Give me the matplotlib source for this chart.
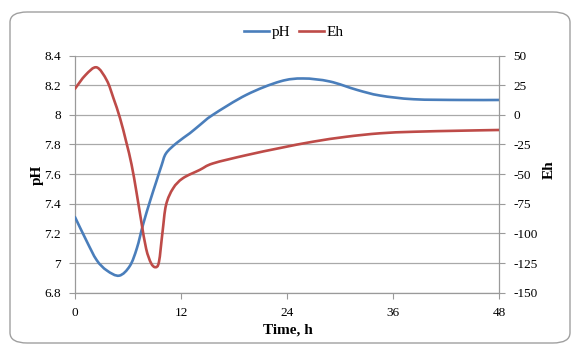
import matplotlib
matplotlib.use("Agg")
import matplotlib.pyplot as plt
from matplotlib.patches import FancyBboxPatch, PathPatch
from matplotlib.path import Path
from matplotlib.lines import Line2D

plt.rcParams['font.family'] = ['Liberation Serif', 'DejaVu Serif']
plt.rcParams['axes.unicode_minus'] = False

# ---- data ----
ph_time = [0, 1.3, 2.45, 3.6, 5.0, 6.2, 7.0, 7.7, 8.5, 9.2, 9.8, 10.3, 11.5,
           13.0, 14.1, 15.6, 19.4, 23.2, 25.8, 28.8, 31.9, 34.5, 38.3, 43.6, 48]
ph_vals = [7.31, 7.15, 7.02, 6.95, 6.915, 6.98, 7.10, 7.26, 7.42, 7.55, 7.66, 7.74, 7.81,
           7.876, 7.93, 8.0, 8.135, 8.225, 8.245, 8.225, 8.168, 8.13, 8.105, 8.10, 8.10]

eh_time = [0, 1.2, 2.45, 3.6, 4.35, 5.1, 5.8, 6.4, 6.95, 7.5, 8.05, 8.6, 9.1, 9.5,
           9.9, 10.3, 11.1, 12.2, 14.1, 15.6, 19.4, 23.2, 26.9, 30.7, 34.5, 38.3, 43.6, 48]
eh_vals = [22, 33.6, 40, 29, 14, -3, -23, -42, -65, -90, -113, -125, -128.5, -124,
           -99, -76, -62, -53.5, -46.5, -41, -34, -28, -22.7, -18.5, -15.6, -14.3, -13.4, -12.8]

x_ticks = [0, 12, 24, 36, 48]
ph_ticks = [6.8, 7.0, 7.2, 7.4, 7.6, 7.8, 8.0, 8.2, 8.4]
ph_tick_labels = ['6.8', '7', '7.2', '7.4', '7.6', '7.8', '8', '8.2', '8.4']
eh_ticks = [-150, -125, -100, -75, -50, -25, 0, 25, 50]
eh_tick_labels = ['-150', '-125', '-100', '-75', '-50', '-25', '0', '25', '50']

blue = '#4a7ebb'
red = '#be4b48'
grid_c = '#a9a9a9'
axis_c = '#9a9a9a'


def smooth_path(xs, ys):
    """Excel-style smoothed line: cubic Bezier segments through the data points."""
    n = len(xs)
    verts = [(xs[0], ys[0])]
    codes = [Path.MOVETO]
    for i in range(n - 1):
        i0 = max(i - 1, 0)
        i3 = min(i + 2, n - 1)
        c1 = (xs[i] + (xs[i + 1] - xs[i0]) / 6.0, ys[i] + (ys[i + 1] - ys[i0]) / 6.0)
        c2 = (xs[i + 1] - (xs[i3] - xs[i]) / 6.0, ys[i + 1] - (ys[i3] - ys[i]) / 6.0)
        verts += [c1, c2, (xs[i + 1], ys[i + 1])]
        codes += [Path.CURVE4] * 3
    return Path(verts, codes)


fig = plt.figure(figsize=(5.73, 3.45), dpi=100)
fig.patch.set_facecolor('white')

# rounded outer frame
frame = FancyBboxPatch((10/573, 1 - 343/345), 560/573, 331/345,
                       boxstyle="round,pad=0,rounding_size=0.03",
                       transform=fig.transFigure, facecolor='none',
                       edgecolor='#a0a0a0', linewidth=1.0)
fig.patches.append(frame)

ax = fig.add_axes([75/573, 1 - 292.7/345, (499.3 - 75)/573, (292.7 - 55.5)/345])
ax2 = ax.twinx()

ax.set_xlim(0, 48)
ax.set_ylim(6.8, 8.4)
ax2.set_ylim(-150, 50)

ax.set_yticks(ph_ticks)
ax.set_yticklabels(ph_tick_labels)
ax2.set_yticks(eh_ticks)
ax2.set_yticklabels(eh_tick_labels)
ax.set_xticks(x_ticks)
ax.set_xticklabels([str(v) for v in x_ticks])

ax.grid(axis='y', color=grid_c, linewidth=0.9)
ax.set_axisbelow(True)

for a in (ax, ax2):
    a.spines['top'].set_visible(False)
    for s in ('left', 'right', 'bottom'):
        a.spines[s].set_color(axis_c)
        a.spines[s].set_linewidth(0.9)
ax.spines['right'].set_visible(False)
ax2.spines['left'].set_visible(False)
ax2.spines['bottom'].set_visible(False)

ax.tick_params(axis='y', direction='out', length=4, color=axis_c, labelsize=9.5, pad=6)
ax.tick_params(axis='x', direction='out', length=4, color=axis_c, labelsize=9.5, pad=6)
ax2.tick_params(axis='y', direction='out', length=4, color=axis_c, labelsize=9.5, pad=6)

ax.add_patch(PathPatch(smooth_path(ph_time, ph_vals), facecolor='none', edgecolor=blue,
                       linewidth=1.9, joinstyle='round', capstyle='round', zorder=3))
ax2.add_patch(PathPatch(smooth_path(eh_time, eh_vals), facecolor='none', edgecolor=red,
                        linewidth=1.9, joinstyle='round', capstyle='round', zorder=3))

fig.text(37/573, 1 - 175/345, 'pH', rotation=90, ha='center', va='center',
         fontsize=11, fontweight='bold')
fig.text(549/573, 1 - 170/345, 'Eh', rotation=90, ha='center', va='center',
         fontsize=11, fontweight='bold')
fig.text(288/573, 1 - 330/345, 'Time, h', ha='center', va='center',
         fontsize=11, fontweight='bold')

handles = [Line2D([], [], color=blue, linewidth=1.9),
           Line2D([], [], color=red, linewidth=1.9)]
fig.legend(handles, ['pH', 'Eh'], loc='center', bbox_to_anchor=(294/573, 1 - 32/345),
           ncol=2, frameon=False, fontsize=11, handlelength=1.6, handletextpad=0.2,
           columnspacing=0.6, borderpad=0)

fig.savefig('out.png', dpi=100, facecolor='white')
